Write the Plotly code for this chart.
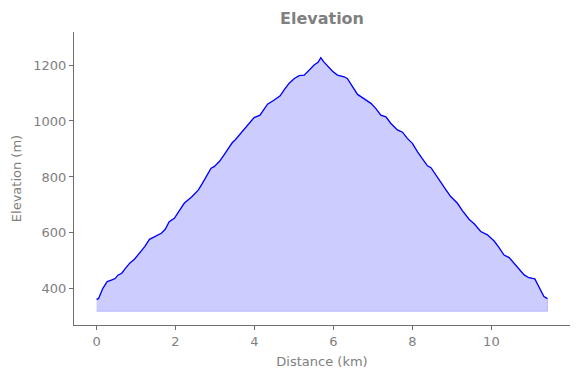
import plotly.graph_objects as go

# Distance along the route (km) and elevation (m)
distance_km = [0.00, 0.05, 0.16, 0.27, 0.39, 0.47, 0.54, 0.64, 0.71, 0.84, 0.96, 1.09, 1.22, 1.34,
               1.47, 1.64, 1.74, 1.84, 1.97, 2.08, 2.22, 2.42, 2.58, 2.68, 2.78, 2.90, 2.98, 3.11,
               3.23, 3.34, 3.44, 3.51, 3.62, 3.74, 3.87, 3.99, 4.14, 4.29, 4.33, 4.50, 4.65, 4.75,
               4.88, 5.01, 5.13, 5.26, 5.39, 5.51, 5.61, 5.68, 5.75, 5.83, 5.97, 6.10, 6.27, 6.35,
               6.48, 6.61, 6.78, 6.95, 7.07, 7.20, 7.33, 7.45, 7.62, 7.75, 7.87, 8.00, 8.13, 8.25,
               8.38, 8.47, 8.59, 8.72, 8.85, 8.97, 9.14, 9.27, 9.44, 9.57, 9.73, 9.90, 10.07, 10.19,
               10.32, 10.45, 10.57, 10.70, 10.83, 10.95, 11.10, 11.18, 11.27, 11.33, 11.40, 11.42]
elevation_m = [363, 365, 402, 426, 432, 437, 449, 456, 470, 492, 506, 527, 551, 577,
               587, 599, 613, 640, 652, 676, 706, 730, 754, 777, 801, 831, 837, 855,
               879, 902, 923, 932, 950, 968, 992, 1012, 1021, 1051, 1060, 1075, 1090, 1111,
               1135, 1152, 1162, 1164, 1182, 1200, 1210, 1226, 1212, 1200, 1179, 1164, 1158, 1152,
               1122, 1095, 1079, 1063, 1045, 1021, 1015, 992, 968, 960, 938, 920, 890, 867,
               840, 833, 807, 781, 754, 730, 706, 679, 648, 632, 605, 593, 571, 548,
               521, 512, 492, 471, 450, 440, 436, 414, 390, 373, 367, 365]
baseline_m = 320

x_ticks = [0, 2, 4, 6, 8, 10]
y_ticks = [400, 600, 800, 1000, 1200]

GRAY = "#808080"
AXIS = "#6e6e6e"
FONT = "DejaVu Sans"

fig = go.Figure()

# filled area between the baseline and the profile
poly_x = distance_km + distance_km[::-1]
poly_y = elevation_m + [baseline_m] * len(distance_km)
fig.add_trace(go.Scatter(
    x=poly_x, y=poly_y, mode="lines", fill="toself",
    fillcolor="rgba(0,0,255,0.2)", line=dict(color="rgba(0,0,255,0.2)", width=1),
    hoverinfo="skip", showlegend=False))

fig.add_trace(go.Scatter(
    x=distance_km, y=elevation_m, mode="lines",
    line=dict(color="blue", width=1.3), showlegend=False))

axis_common = dict(
    showgrid=False, zeroline=False, showline=True, linecolor=AXIS, linewidth=1,
    ticks="outside", ticklen=4, tickcolor=AXIS, tickwidth=1, automargin=False,
    tickfont=dict(family=FONT, size=13, color=GRAY),
)

fig.update_layout(
    width=580, height=378,
    margin=dict(l=74, r=10, t=32, b=53),
    paper_bgcolor="white", plot_bgcolor="white",
    title=dict(text="<b>Elevation</b>", x=322 / 580, xref="container",
               xanchor="center", y=1 - 18 / 378, yref="container", yanchor="middle",
               font=dict(family=FONT, size=16, color=GRAY), automargin=False),
    xaxis=dict(axis_common, range=[-0.571, 11.991], tickvals=x_ticks,
               title=dict(text="Distance (km)", font=dict(family=FONT, size=13, color=GRAY), standoff=9)),
    yaxis=dict(axis_common, range=[271, 1318], tickvals=y_ticks,
               title=dict(text="Elevation (m)", font=dict(family=FONT, size=13, color=GRAY), standoff=8)),
)

fig.write_html("out.html", config={"displayModeBar": False},
               post_script="document.body.style.margin='0';")
